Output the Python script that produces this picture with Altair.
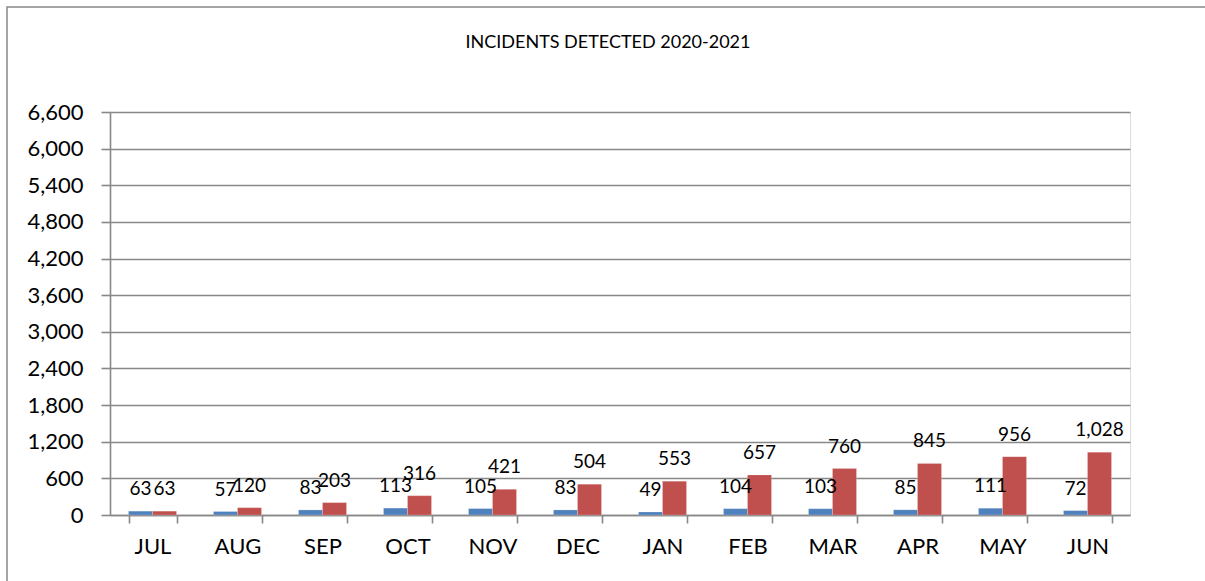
import altair as alt
import pandas as pd

# Monthly incident counts and the running total, July 2020 - June 2021
months = ["JUL", "AUG", "SEP", "OCT", "NOV", "DEC", "JAN", "FEB", "MAR", "APR", "MAY", "JUN"]
monthly = [63, 57, 83, 113, 105, 83, 49, 104, 103, 85, 111, 72]
cumulative = [63, 120, 203, 316, 421, 504, 553, 657, 760, 845, 956, 1028]
series_names = ["Monthly", "Cumulative"]
series_colors = ["#4F81BD", "#C0504D"]
y_ticks = [0, 600, 1200, 1800, 2400, 3000, 3600, 4200, 4800, 5400, 6000, 6600]
title_text = "INCIDENTS DETECTED 2020-2021"

rows = []
for m, a, b in zip(months, monthly, cumulative):
    rows.append({"month": m, "series": series_names[0], "value": a})
    rows.append({"month": m, "series": series_names[1], "value": b})
df = pd.DataFrame(rows)

FONT = "Lato"
GRID = "#888888"

x_enc = alt.X(
    "month:N",
    sort=months,
    title=None,
    scale=alt.Scale(paddingInner=37 / 85, paddingOuter=18.5 / 85),
    axis=alt.Axis(
        labelFont=FONT,
        labelFontSize=22,
        labelColor="black",
        labelPadding=13,
        labelAngle=0,
        tickBand="extent",
        tickSize=8,
        tickColor=GRID,
        tickWidth=1.6,
        domainColor=GRID,
        domainWidth=1.6,
        grid=False,
    ),
)
xoff_enc = alt.XOffset(
    "series:N", sort=series_names, scale=alt.Scale(paddingInner=0, paddingOuter=0)
)
y_enc = alt.Y(
    "value:Q",
    title=None,
    scale=alt.Scale(domain=[0, 6600], nice=False),
    axis=alt.Axis(
        values=y_ticks,
        format=",d",
        labelFont=FONT,
        labelFontSize=22,
        labelColor="black",
        labelPadding=18,
        tickSize=9,
        tickColor=GRID,
        tickWidth=1.6,
        domainColor=GRID,
        domainWidth=1.6,
        gridColor=GRID,
        gridWidth=1.6,
    ),
)
color_enc = alt.Color(
    "series:N",
    sort=series_names,
    scale=alt.Scale(domain=series_names, range=series_colors),
    legend=None,
)

bars = alt.Chart(df).mark_bar(stroke="white", strokeWidth=0.5, strokeOpacity=0.4).encode(
    x=x_enc, xOffset=xoff_enc, y=y_enc, color=color_enc
)

labels = alt.Chart(df).mark_text(
    font=FONT, fontSize=19, color="black", baseline="alphabetic", dy=-16
).encode(
    x=x_enc, xOffset=xoff_enc, y=y_enc, text=alt.Text("value:Q", format=",d")
)

# outer chart frame and the chart heading
single = pd.DataFrame({"f": [0]})
frame = alt.Chart(single).mark_rect(
    fill="transparent", stroke=GRID, strokeWidth=1.5
).encode(
    x=alt.value(-103), x2=alt.value(1110), y=alt.value(-105), y2=alt.value(480)
)
heading = alt.Chart(single).mark_text(
    font=FONT, fontSize=18, color="black", align="center", baseline="middle"
).encode(
    x=alt.value(498), y=alt.value(-69), text=alt.value(title_text)
)

chart = (
    alt.layer(frame, heading, bars, labels)
    .properties(
        width=1020,
        height=403,
        autosize=alt.AutoSizeParams(type="none"),
        padding={"left": 110, "top": 112, "right": 75, "bottom": 66},
    )
    .configure_view(stroke=None)
    .configure(background="white")
)

chart.save("out.html", embed_options={"renderer": "svg", "actions": False})
